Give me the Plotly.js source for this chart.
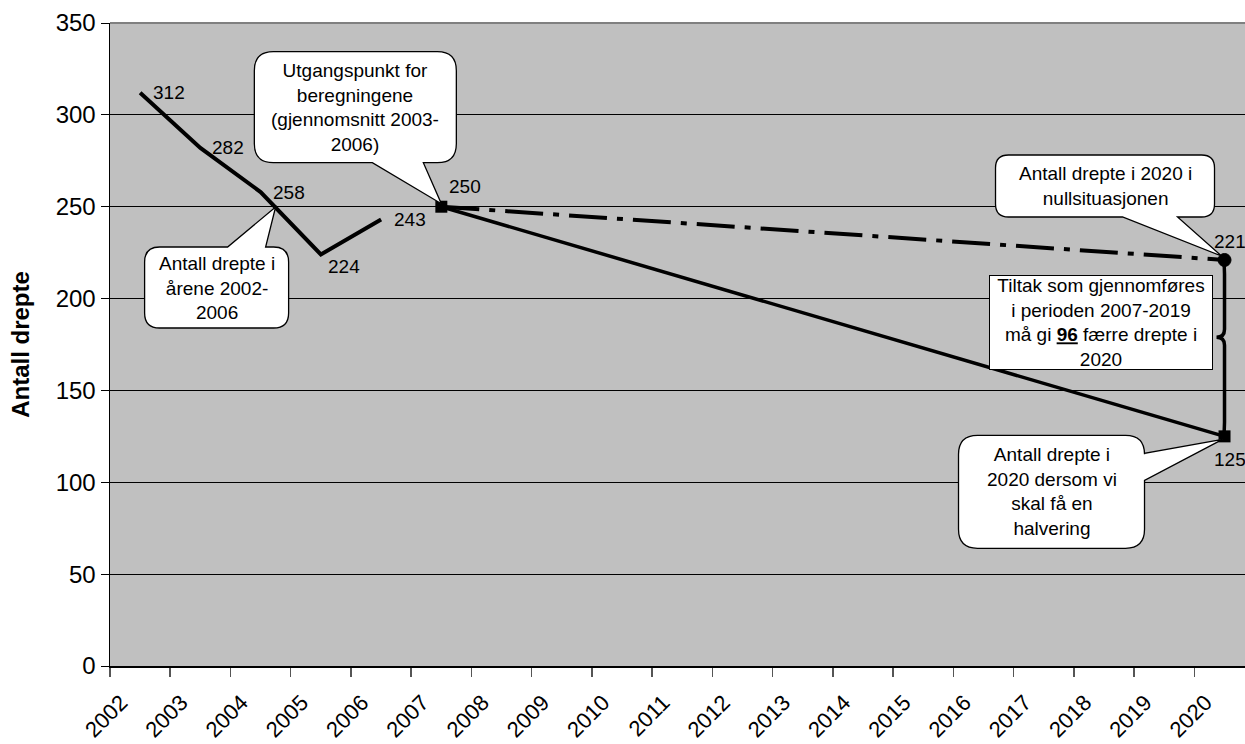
<!DOCTYPE html>
<html>
<head>
<meta charset="utf-8">
<script src="https://cdn.plot.ly/plotly-3.0.1.min.js"></script>
<style>
  html, body { margin: 0; padding: 0; background: #ffffff; }
  #chart { width: 1245px; height: 744px; }
</style>
</head>
<body>
<div id="chart"></div>
<script>
// Road deaths: observed years and the 2020 halving target
const years = ['2002', '2003', '2004', '2005', '2006', '2007', '2008', '2009', '2010', '2011',
               '2012', '2013', '2014', '2015', '2016', '2017', '2018', '2019', '2020'];
const yTicks = [0, 50, 100, 150, 200, 250, 300, 350];

const observedYears = ['2002', '2003', '2004', '2005', '2006'];
const observedDeaths = [312, 282, 258, 224, 243];

const nullYears = ['2007', '2020'];
const nullDeaths = [250, 221];

const halvingYears = ['2007', '2020'];
const halvingDeaths = [250, 125];

const FONT = 'Liberation Sans, Arial, Helvetica, sans-serif';
const LABEL_SIZE = 19;

const W = 1245, H = 744;
const M = { l: 110, r: 0, t: 23, b: 78 };
const plotW = W - M.l - M.r;
const plotH = H - M.t - M.b;
const xRange = [-0.5, 18.34];
const yRange = [0, 350];

const baseValue = halvingDeaths[0];
const targetValue = halvingDeaths[halvingDeaths.length - 1];
const nullValue = nullDeaths[nullDeaths.length - 1];
const reduction = nullValue - targetValue;

// data -> paper fraction of the plot area
const xPaper = yr => (years.indexOf(yr) - xRange[0]) / (xRange[1] - xRange[0]);
const yPaper = v => (v - yRange[0]) / (yRange[1] - yRange[0]);

// point string at a pixel offset (y up) from an anchor given in paper units
const at = (ax, ay) => (dx, dy) => `${(ax + dx / plotW).toFixed(5)},${(ay + dy / plotH).toFixed(5)}`;

// Speech-bubble outline: rounded box plus a pointed tail
function bubblePath(P, b) {
  const { x0, x1, yB, yT, r, tail } = b;
  const tip = 'L' + P(tail.tip[0], tail.tip[1]);
  const p = ['M' + P(x0 + r, yT)];
  if (tail.side === 'top') p.push('L' + P(tail.a, yT), tip, 'L' + P(tail.b, yT));
  p.push('L' + P(x1 - r, yT), 'Q' + P(x1, yT) + ' ' + P(x1, yT - r));
  if (tail.side === 'right') p.push('L' + P(x1, tail.a), tip, 'L' + P(x1, tail.b));
  p.push('L' + P(x1, yB + r), 'Q' + P(x1, yB) + ' ' + P(x1 - r, yB));
  if (tail.side === 'bottom') p.push('L' + P(tail.b, yB), tip, 'L' + P(tail.a, yB));
  p.push('L' + P(x0 + r, yB), 'Q' + P(x0, yB) + ' ' + P(x0, yB + r));
  p.push('L' + P(x0, yT - r), 'Q' + P(x0, yT) + ' ' + P(x0 + r, yT), 'Z');
  return p.join(' ');
}

const callouts = [
  {
    text: 'Utgangspunkt for<br>beregningene<br>(gjennomsnitt 2003-<br>2006)',
    ax: halvingYears[0], ay: baseValue,
    box: { x0: -187, x1: 15, yB: 44, yT: 155, r: 19,
           tail: { side: 'bottom', a: -69, b: -18, tip: [0, 3] } }
  },
  {
    text: 'Antall drepte i<br>årene 2002-<br>2006',
    ax: observedYears[2], ay: observedDeaths[2],
    box: { x0: -116, x1: 28, yB: -136, yT: -55, r: 15,
           tail: { side: 'top', a: -33, b: 5, tip: [15, -15] } }
  },
  {
    text: 'Antall drepte i 2020 i<br>nullsituasjonen',
    ax: nullYears[1], ay: nullValue,
    box: { x0: -229, x1: -10, yB: 43, yT: 105, r: 13,
           tail: { side: 'bottom', a: -102, b: -47, tip: [-3, 4] } }
  },
  {
    text: 'Antall drepte i<br>2020 dersom vi<br>skal få en<br>halvering',
    ax: halvingYears[1], ay: targetValue,
    box: { x0: -266, x1: -80, yB: -112, yT: 1, r: 19,
           tail: { side: 'right', a: -17, b: -44, tip: [-2, -3] } }
  }
];

const traces = [
  {
    x: observedYears, y: observedDeaths, type: 'scatter', mode: 'lines',
    line: { color: '#000000', width: 4 }, hoverinfo: 'skip'
  },
  {
    x: nullYears, y: nullDeaths, type: 'scatter', mode: 'lines+markers',
    line: { color: '#000000', width: 4, dash: '38px,10px,6px,10px' },
    marker: { symbol: 'circle', size: [0, 13], color: '#000000', opacity: 1,
              line: { color: '#000000', width: 1 } },
    cliponaxis: false, hoverinfo: 'skip'
  },
  {
    x: halvingYears, y: halvingDeaths, type: 'scatter', mode: 'lines+markers',
    line: { color: '#000000', width: 3.5 },
    marker: { symbol: 'square', size: 12, color: '#000000' },
    cliponaxis: false, hoverinfo: 'skip'
  }
];

// value labels next to the points, as pixel offsets from each point
const valueLabels = [];
const observedShift = [[11, 0], [10, 0], [10, 0], [5, -12], [11, 0]];
observedYears.forEach((yr, i) => valueLabels.push({
  x: yr, y: observedDeaths[i], dx: observedShift[i][0], dy: observedShift[i][1]
}));
valueLabels.push({ x: halvingYears[0], y: baseValue, dx: 6, dy: 20 });
valueLabels.push({ x: nullYears[1], y: nullValue, dx: -13, dy: 18 });
valueLabels.push({ x: halvingYears[1], y: targetValue, dx: -13, dy: -23 });

// brace from the null-situation value down to the target, bump slightly above the middle
const mid = (nullValue + targetValue) / 2;
const B = at(xPaper(nullYears[1]), yPaper(mid));
const bump = 11;
const braceTop = (yPaper(nullValue) - yPaper(mid)) * plotH;
const braceBot = (yPaper(targetValue) - yPaper(mid)) * plotH;

const shapes = [
  // top frame line of the plot area
  { type: 'line', xref: 'paper', yref: 'paper', x0: 0, x1: 1, y0: 1, y1: 1,
    line: { color: '#808080', width: 2 } },
  { type: 'path', xref: 'paper', yref: 'paper',
    path: `M${B(-1, braceTop)} Q${B(0, braceTop - 6)} ${B(0, braceTop - 14)} L${B(0, bump + 8)} ` +
          `Q${B(0, bump)} ${B(-8, bump)} Q${B(0, bump)} ${B(0, bump - 8)} ` +
          `L${B(0, braceBot + 14)} Q${B(0, braceBot + 6)} ${B(-1, braceBot)}`,
    line: { color: '#000000', width: 3.5 } }
].concat(callouts.map(c => ({
  type: 'path', xref: 'paper', yref: 'paper',
  path: bubblePath(at(xPaper(c.ax), yPaper(c.ay)), c.box),
  fillcolor: '#ffffff', line: { color: '#000000', width: 1.3 }
})));

const annotations = callouts.map(c => ({
  x: xPaper(c.ax), y: yPaper(c.ay), xref: 'paper', yref: 'paper', showarrow: false,
  xshift: (c.box.x0 + c.box.x1) / 2, yshift: (c.box.yB + c.box.yT) / 2,
  xanchor: 'center', yanchor: 'middle', align: 'center',
  text: c.text, font: { family: FONT, size: LABEL_SIZE, color: '#000000' }
}));

valueLabels.forEach(v => annotations.push({
  x: xPaper(v.x), y: yPaper(v.y), xref: 'paper', yref: 'paper', showarrow: false,
  xshift: v.dx, yshift: v.dy, xanchor: 'left', yanchor: 'middle',
  text: String(v.y), font: { family: FONT, size: LABEL_SIZE, color: '#000000' }
}));

annotations.push({
  x: xPaper(nullYears[1]), y: yPaper(nullValue), xref: 'paper', yref: 'paper', showarrow: false,
  xshift: -124, yshift: -63, xanchor: 'center', yanchor: 'middle', align: 'center',
  width: 222, height: 93,
  text: `Tiltak som gjennomføres<br>i perioden 2007-2019<br>må gi <b><u>${reduction}</u></b> færre drepte i<br>2020`,
  font: { family: FONT, size: LABEL_SIZE, color: '#000000' },
  bgcolor: '#ffffff', bordercolor: '#000000', borderwidth: 1, borderpad: 0
});

const layout = {
  width: W, height: H,
  margin: { l: M.l, r: M.r, t: M.t, b: M.b, pad: 0 },
  paper_bgcolor: '#ffffff', plot_bgcolor: '#c0c0c0',
  font: { family: FONT, color: '#000000' },
  showlegend: false,
  xaxis: {
    type: 'category', categoryorder: 'array', categoryarray: years,
    tickvals: years, range: xRange, tickson: 'boundaries',
    ticks: 'outside', ticklen: 9, tickwidth: 1.5, tickcolor: '#555555',
    tickangle: -45, tickfont: { size: 22 },
    ticklabelstandoff: 13, ticklabelshift: -19,
    showline: true, linecolor: '#000000', linewidth: 2,
    showgrid: false, zeroline: false, automargin: false, fixedrange: true
  },
  yaxis: {
    range: yRange, tickvals: yTicks,
    ticks: 'outside', ticklen: 8, tickwidth: 1, tickcolor: '#000000',
    tickfont: { size: 24 },
    showline: true, linecolor: '#000000', linewidth: 1.5,
    showgrid: true, gridcolor: '#000000', gridwidth: 1, zeroline: false,
    automargin: false, fixedrange: true,
    title: { text: '<b>Antall drepte</b>', font: { size: 24 }, standoff: 19 }
  },
  shapes: shapes,
  annotations: annotations
};

Plotly.newPlot('chart', traces, layout, { staticPlot: true, displayModeBar: false });
</script>
</body>
</html>
